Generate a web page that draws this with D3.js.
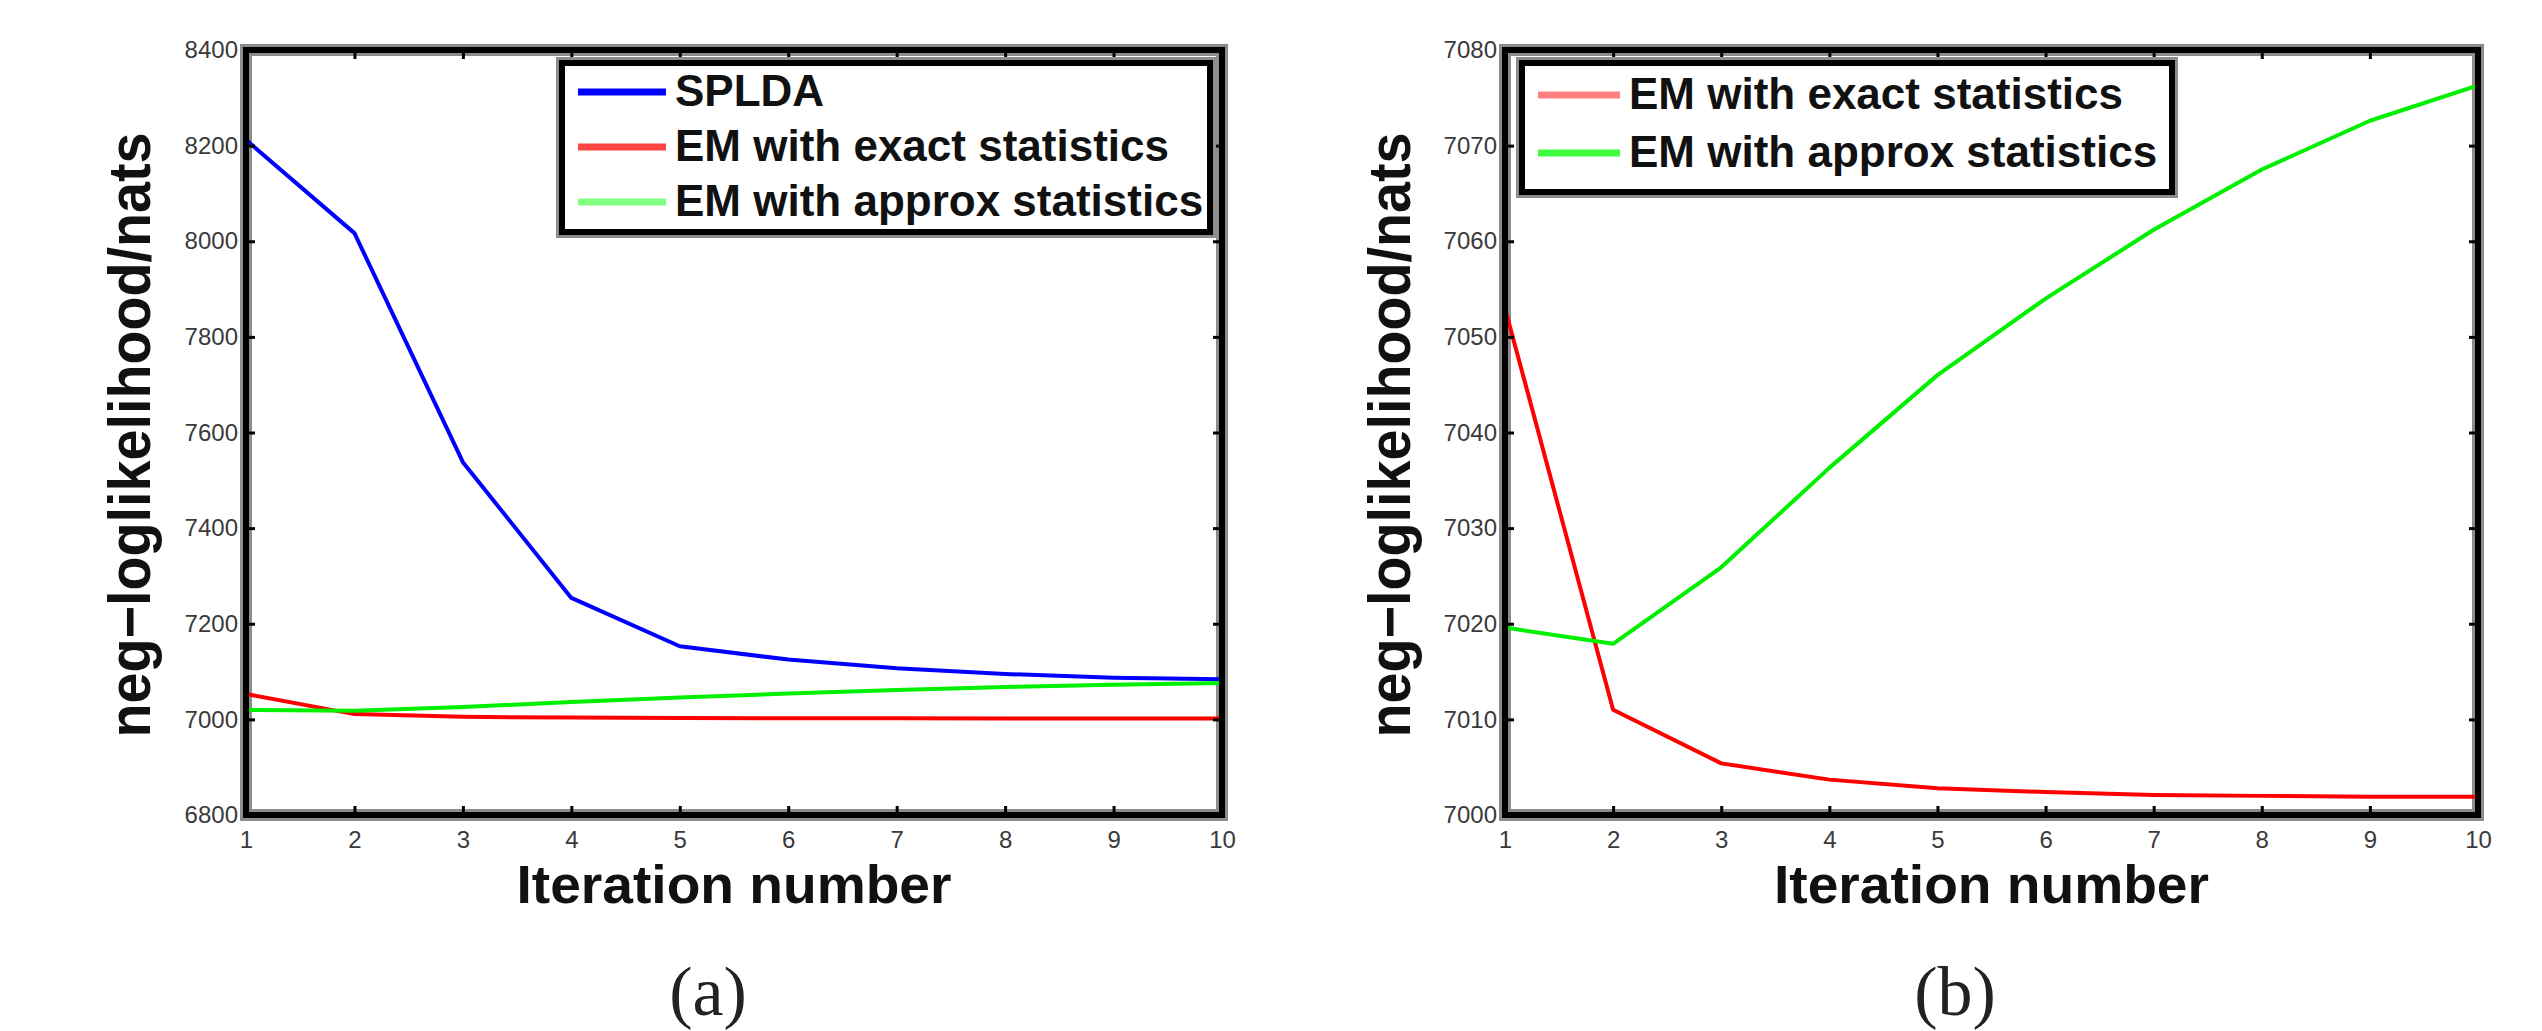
<!DOCTYPE html>
<html>
<head>
<meta charset="utf-8">
<script src="https://cdn.jsdelivr.net/npm/d3@7"></script>
<style>
  html, body { margin: 0; padding: 0; background: #fff; }
  svg { display: block; }
</style>
</head>
<body>
<svg id="chart" width="2542" height="1031"></svg>
<script>
// ---------------- data ----------------
const iterations = [1, 2, 3, 4, 5, 6, 7, 8, 9, 10];
const spldaValues   = [8212, 8017, 7538, 7254, 7153, 7125, 7107, 7095, 7087, 7084];
const emExactValues = [7053, 7011, 7005.4, 7003.7, 7002.8, 7002.4, 7002.1, 7002.0, 7001.9, 7001.9];
const emApproxValues = [7019.6, 7017.9, 7025.9, 7036.3, 7046, 7054, 7061.2, 7067.5, 7072.6, 7076.3];
const xTickLabels = [1, 2, 3, 4, 5, 6, 7, 8, 9, 10];
const leftYTicks  = [6800, 7000, 7200, 7400, 7600, 7800, 8000, 8200, 8400];
const rightYTicks = [7000, 7010, 7020, 7030, 7040, 7050, 7060, 7070, 7080];
const seriesNames = ["SPLDA", "EM with exact statistics", "EM with approx statistics"];
const seriesColors = ["#0000ff", "#ff0000", "#00f000"];
const yAxisTitle = "neg\u2212loglikelihood/nats";
const xAxisTitle = "Iteration number";
const captions = ["(a)", "(b)"];

// ---------------- drawing ----------------
const svg = d3.select("#chart");
svg.append("rect").attr("width", 2542).attr("height", 1031).attr("fill", "#fff");

const TOP = 50, BOTTOM = 815;

function drawPanel(cfg) {
  const g = svg.append("g");
  const x = d3.scaleLinear().domain([1, 10]).range([cfg.left, cfg.right]);
  const y = d3.scaleLinear().domain(cfg.yDomain).range([BOTTOM, TOP]);

  // soft gray halo of the frame
  g.append("rect")
    .attr("x", cfg.left).attr("y", TOP)
    .attr("width", cfg.right - cfg.left).attr("height", BOTTOM - TOP)
    .attr("fill", "none").attr("stroke", "#8c8c8c").attr("stroke-width", 12);

  const clipId = "clip" + cfg.id;
  svg.append("clipPath").attr("id", clipId).append("rect")
    .attr("x", cfg.left).attr("y", TOP)
    .attr("width", cfg.right - cfg.left).attr("height", BOTTOM - TOP);

  const line = d3.line().x((d, i) => x(iterations[i])).y(d => y(d));
  cfg.series.forEach(s => {
    g.append("path")
      .datum(s.values)
      .attr("clip-path", `url(#${clipId})`)
      .attr("d", line)
      .attr("fill", "none")
      .attr("stroke", s.color)
      .attr("stroke-width", 4)
      .attr("stroke-linejoin", "round");
  });

  // axes
  const tickFont = g => g.selectAll("text")
      .attr("font-family", "'Liberation Sans', Arial, sans-serif")
      .attr("font-size", 24).attr("fill", "#3a3a3a");
  const tickLines = g => { g.select(".domain").remove();
    g.selectAll(".tick line").attr("stroke", "#000").attr("stroke-width", 3); };

  g.append("g").attr("transform", `translate(0,${BOTTOM})`)
    .call(d3.axisBottom(x).tickValues(xTickLabels).tickSize(-9).tickPadding(16).tickFormat(d3.format("d")))
    .call(tickLines).call(tickFont);
  g.append("g").attr("transform", `translate(0,${TOP})`)
    .call(d3.axisTop(x).tickValues(xTickLabels).tickSize(-9).tickFormat(""))
    .call(tickLines);
  g.append("g").attr("transform", `translate(${cfg.left},0)`)
    .call(d3.axisLeft(y).tickValues(cfg.yTicks).tickSize(-9).tickPadding(8).tickFormat(d3.format("d")))
    .call(tickLines).call(tickFont);
  g.append("g").attr("transform", `translate(${cfg.right},0)`)
    .call(d3.axisRight(y).tickValues(cfg.yTicks).tickSize(-9).tickFormat(""))
    .call(tickLines);

  // black frame
  g.append("rect")
    .attr("x", cfg.left).attr("y", TOP)
    .attr("width", cfg.right - cfg.left).attr("height", BOTTOM - TOP)
    .attr("fill", "none").attr("stroke", "#000").attr("stroke-width", 6);

  // axis titles
  g.append("text")
    .attr("transform", `translate(${cfg.ylabX},435) rotate(-90)`)
    .attr("text-anchor", "middle")
    .attr("font-family", "'Liberation Sans', Arial, sans-serif")
    .attr("font-weight", "bold").attr("font-size", 60)
    .attr("textLength", 605).attr("lengthAdjust", "spacingAndGlyphs")
    .attr("fill", "#111")
    .text(yAxisTitle);
  g.append("text")
    .attr("x", (cfg.left + cfg.right) / 2).attr("y", 903)
    .attr("text-anchor", "middle")
    .attr("font-family", "'Liberation Sans', Arial, sans-serif")
    .attr("font-weight", "bold").attr("font-size", 54)
    .attr("textLength", 435).attr("lengthAdjust", "spacingAndGlyphs")
    .attr("fill", "#111")
    .text(xAxisTitle);

  // caption
  g.append("text")
    .attr("x", cfg.captionX).attr("y", 1015)
    .attr("text-anchor", "middle")
    .attr("font-family", "'Liberation Serif', 'Times New Roman', serif")
    .attr("font-size", 70).attr("fill", "#222")
    .text(cfg.caption);

  // legend
  const L = cfg.legend;
  g.append("rect").attr("x", L.x).attr("y", L.y).attr("width", L.w).attr("height", L.h)
    .attr("fill", "#fff").attr("stroke", "#8c8c8c").attr("stroke-width", 12);
  g.append("rect").attr("x", L.x).attr("y", L.y).attr("width", L.w).attr("height", L.h)
    .attr("fill", "#fff").attr("stroke", "#000").attr("stroke-width", 6);
  cfg.series.forEach((s, i) => {
    const ly = L.firstY + i * L.step;
    g.append("line")
      .attr("x1", L.x + 16).attr("x2", L.x + 16 + L.lineLen)
      .attr("y1", ly).attr("y2", ly)
      .attr("stroke", s.legendColor).attr("stroke-width", 7);
    g.append("text")
      .attr("x", L.x + 16 + L.lineLen + 9).attr("y", ly + 14)
      .attr("font-family", "'Liberation Sans', Arial, sans-serif")
      .attr("font-weight", "bold").attr("font-size", 44)
      .attr("fill", "#111")
      .text(s.name);
  });
}

drawPanel({
  id: "a", left: 246, right: 1222, yDomain: [6800, 8400], yTicks: leftYTicks,
  ylabX: 150, captionX: 708, caption: captions[0],
  series: [
    { name: seriesNames[0], values: spldaValues, color: seriesColors[0], legendColor: "#0000ff" },
    { name: seriesNames[1], values: emExactValues, color: seriesColors[1], legendColor: "#ff4444" },
    { name: seriesNames[2], values: emApproxValues, color: seriesColors[2], legendColor: "#80ff80" }
  ],
  legend: { x: 562, y: 63, w: 648, h: 169, firstY: 92, step: 55, lineLen: 88 }
});

drawPanel({
  id: "b", left: 1505, right: 2478, yDomain: [7000, 7080], yTicks: rightYTicks,
  ylabX: 1410, captionX: 1955, caption: captions[1],
  series: [
    { name: seriesNames[1], values: emExactValues, color: seriesColors[1], legendColor: "#ff8080" },
    { name: seriesNames[2], values: emApproxValues, color: seriesColors[2], legendColor: "#40ff40" }
  ],
  legend: { x: 1522, y: 63, w: 650, h: 129, firstY: 95, step: 58, lineLen: 82 }
});
</script>
</body>
</html>
